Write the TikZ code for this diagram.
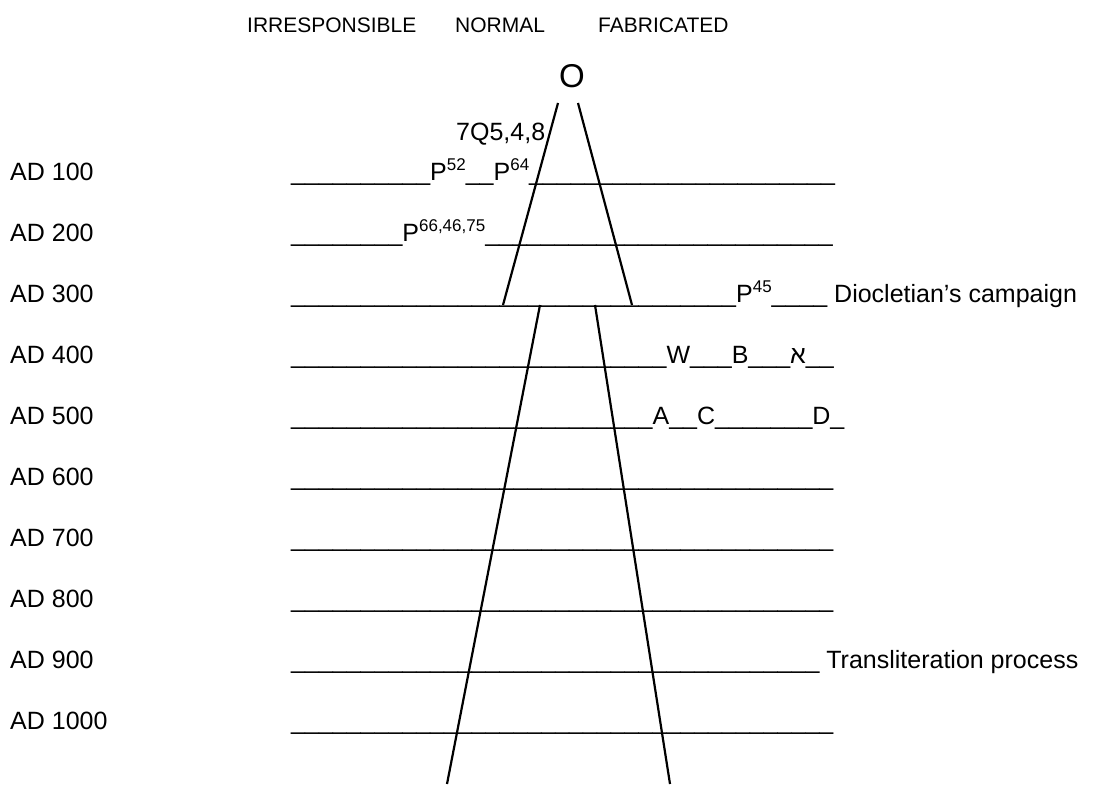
\documentclass[tikz,border=0pt]{standalone}
\usepackage{fontspec}
\setmainfont{Liberation Sans}
\newfontfamily\hebfont[Script=Hebrew]{Liberation Sans}
\newcommand\unders[1]{\foreach \ii in {1,...,#1}{\_}}
\newcommand\upnum[1]{\raisebox{10pt}{\fontsize{17}{17}\selectfont #1}}
\begin{document}
\begin{tikzpicture}[x=1pt,y=-1pt,every node/.style={font=\fontsize{25}{30}\selectfont,inner sep=0pt,anchor=base west},
  head/.style={font=\fontsize{21}{25}\selectfont},
  edge/.style={line width=2.2pt}]
\useasboundingbox (0,0) rectangle (1097,784);
\node[head] (irr) at (247,33) {IRRESPONSIBLE};
\node[head] (nrm) at (455,33) {NORMAL};
\node[head] (fab) at (598,33) {FABRICATED};
\node[font=\fontsize{33}{36}\selectfont,anchor=base] (o) at (572,88) {O};
\node (q7) at (456,140) {7Q5,4,8};
\foreach \n [count=\k] in {100,200,...,1000}
  \node (ad\n) at (10,{119+61*\k}) {AD \n};
\node (row1) at (291,180) {\unders{10}P\upnum{52}\unders{2}P\upnum{64}\unders{22}};
\node (row2) at (291,241) {\unders{8}P\upnum{66,46,75}\unders{25}};
\node (row3) at (291,302) {\unders{32}P\upnum{45}\unders{4} Diocletian’s campaign};
\node (row4) at (291,363) {\unders{27}W\unders{3}B\unders{3}{\hebfont א}\unders{2}};
\node (row5) at (291,424) {\unders{26}A\unders{2}C\unders{7}D\unders{1}};
\foreach \k in {6,7,8,10}
  \node (row\k) at (291,{119+61*\k}) {\unders{39}};
\node (row9) at (291,668) {\unders{38} Transliteration process};
\coordinate (tl) at (558,103);
\coordinate (tr) at (578,103);
\coordinate (ml) at (503,305);
\coordinate (mr) at (632,305);
\coordinate (nl) at (540,305);
\coordinate (nr) at (595,305);
\coordinate (bl) at (447,784);
\coordinate (br) at (670,784);
\foreach \a/\b in {tl/ml,tr/mr,nl/bl,nr/br}
  \draw[edge] (\a)--(\b);
\end{tikzpicture}
\end{document}
